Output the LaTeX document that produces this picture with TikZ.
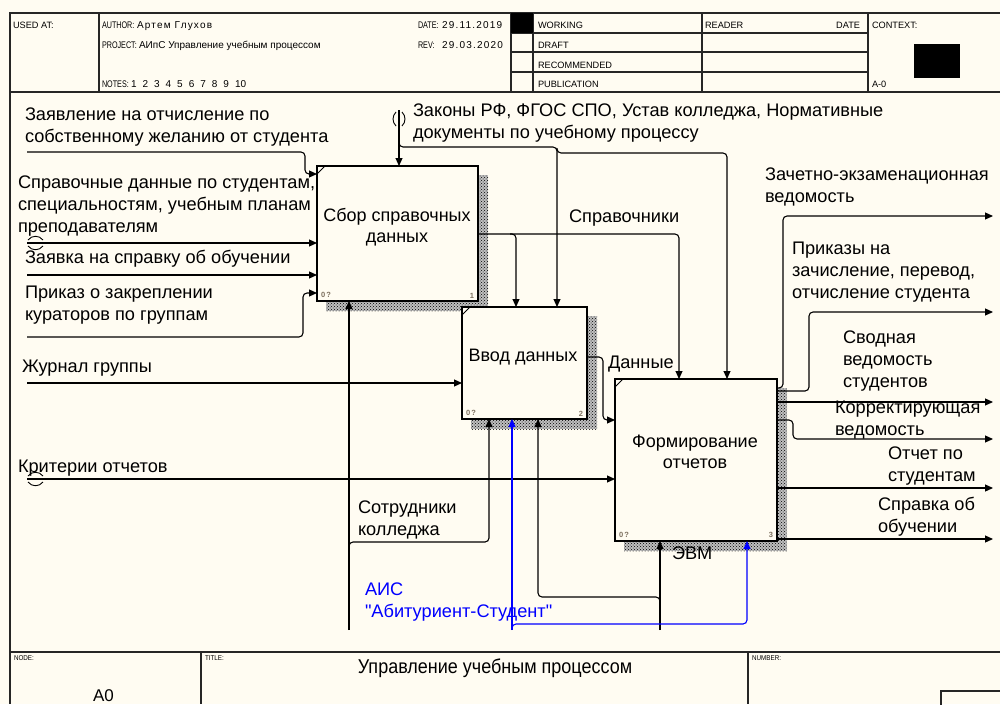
\documentclass[tikz,border=0pt]{standalone}
\usepackage{fontspec}
\setmainfont{Liberation Sans}
\newfontfamily\narrowfont[FakeStretch=0.9]{Liberation Sans}
\newfontfamily\keyfont[FakeStretch=0.75]{Liberation Sans}
\newfontfamily\spacedfont[LetterSpace=12]{Liberation Sans}
\newfontfamily\plainfont{Liberation Sans}
\usetikzlibrary{arrows.meta,patterns}
\definecolor{paper}{RGB}{255,252,242}
\definecolor{aisblue}{RGB}{0,0,255}
\definecolor{numgray}{RGB}{125,112,95}

\begin{document}
\begin{tikzpicture}[
        x=1pt, y=-1pt,
        every node/.style={inner sep=0, outer sep=0},
        frame/.style={line width=1.3pt, black!85},
        hdr/.style={font=\fontsize{9.2}{10}\selectfont, anchor=base west},
        hkey/.style={font=\keyfont\fontsize{9.6}{10}\selectfont, anchor=base west},
        hval/.style={font=\fontsize{10}{11}\selectfont, anchor=base west},
        hwide/.style={font=\spacedfont\fontsize{10}{11}\selectfont, anchor=base west},
        ftr/.style={font=\narrowfont\fontsize{7}{8}\selectfont, anchor=base west},
        lbl/.style={font=\fontsize{18.2}{22}\selectfont, align=left, anchor=base west},
        boxtxt/.style={font=\fontsize{18}{21}\selectfont, align=center, anchor=base},
        func/.style={draw, fill=paper, line width=1.3pt},
        hatch/.style={pattern=crosshatch dots, pattern color=black},
        num/.style={font=\fontsize{7.5}{8}\selectfont\bfseries, text=numgray},
        arr/.style={-{Triangle[length=8pt,width=7pt]}, line width=1.1pt, rounded corners=4pt},
        tun/.style={line width=0.9pt}
    ]
    \fill[paper] (0,0) rectangle (1000,704);
    \useasboundingbox (0,0) rectangle (1000,704);

    % рамка и шапка
    \draw[frame] (1000,13) -- (10,13) -- (10,704);
    \draw[frame] (10,92) -- (1000,92);
    \foreach \hx in {99,511,533,702,868}
        \draw[frame] (\hx,13) -- (\hx,92);
    \foreach \hy in {33,52,72}
        \draw[frame] (511,\hy) -- (868,\hy);
    \fill (511,13) rectangle (533,33);
    \fill (914,44) rectangle (960,78);
    \node[hdr] (usedat) at (13,28) {USED AT:};
    \node[hkey] (author) at (102,28) {AUTHOR:};
    \node[hwide] (authval) at (137,28) {Артем Глухов};
    \node[hkey] (project) at (102,48) {PROJECT:};
    \node[hval] (projval) at (139,48) {АИпС Управление учебным процессом};
    \node[hkey] (notes) at (102,87) {NOTES:};
    \node[hval] (notenum) at (131,87) {1\hspace{6pt}2\hspace{6pt}3\hspace{6pt}4\hspace{6pt}5\hspace{6pt}6\hspace{6pt}7\hspace{6pt}8\hspace{6pt}9\hspace{6pt}10};
    \node[hkey] (date) at (418,28) {DATE:};
    \node[hwide] (dateval) at (442,28) {29.11.2019};
    \node[hkey] (rev) at (418,48) {REV:};
    \node[hwide] (revval) at (442,48) {29.03.2020};
    \node[hdr] (working) at (538,28) {WORKING};
    \node[hdr] (draft) at (538,48) {DRAFT};
    \node[hdr] (recom) at (538,68) {RECOMMENDED};
    \node[hdr] (publ) at (538,87) {PUBLICATION};
    \node[hdr] (reader) at (705,28) {READER};
    \node[hdr, anchor=base east] (rdate) at (860,28) {DATE};
    \node[hdr] (context) at (872,28) {CONTEXT:};
    \node[hdr] (ctxnode) at (872,87) {A-0};

    % подвал
    \draw[frame] (10,652) -- (1000,652);
    \draw[frame] (201,652) -- (201,704);
    \draw[frame] (748,652) -- (748,704);
    \draw[frame] (941,710) -- (941,691) -- (1005,691);
    \node[ftr] (nodelbl) at (14,660) {NODE:};
    \node[ftr] (titlelbl) at (205,660) {TITLE:};
    \node[ftr] (numlbl) at (752,660) {NUMBER:};
    \node[font=\fontsize{17}{20}\selectfont, anchor=base west] (nodeno) at (93,701) {A0};
    \node[font=\narrowfont\fontsize{20}{22}\selectfont, anchor=base] (title) at (495,673) {Управление учебным процессом};

    % блоки
    \fill[black!25] (326,175) rectangle (488,311);
    \fill[hatch] (326,175) rectangle (488,311);
    \node[func, minimum width=161pt, minimum height=135pt] (b1) at (397.5,233.5) {};
    \fill[black!25] (471,316) rectangle (597,429);
    \fill[hatch] (471,316) rectangle (597,429);
    \node[func, minimum width=125pt, minimum height=112pt] (b2) at (524.5,363) {};
    \fill[black!25] (624,388) rectangle (787,551);
    \fill[hatch] (624,388) rectangle (787,551);
    \node[func, minimum width=162pt, minimum height=162pt] (b3) at (696,460) {};
    \foreach \b/\n in {b1/1,b2/2,b3/3} {
        \draw[line width=0.8pt] ([yshift=-8pt]\b.north west) -- ([xshift=8pt]\b.north west);
        \node[num, anchor=south west] (\b z) at ([shift={(4pt,3pt)}]\b.south west) {0\,?};
        \node[num, anchor=south east] (\b n) at ([shift={(-4pt,3pt)}]\b.south east) {\n};
    }
    \node[boxtxt] (t1) at (397,242) {Сбор справочных\\данных};
    \node[boxtxt] (t2) at (523,361) {Ввод данных};
    \node[boxtxt] (t3) at (695,468) {Формирование\\отчетов};

    % свободные концы стрелок
    \coordinate (zayav) at (27,152);
    \coordinate (sprav) at (27,243);
    \coordinate (zayavka) at (27,275);
    \coordinate (prikaz) at (27,337);
    \coordinate (zhurnal) at (27,383);
    \coordinate (krit) at (27,479);
    \coordinate (zakony) at (399,110);
    \coordinate (sotr) at (349,630);
    \coordinate (evm) at (660,630);
    \coordinate (ais) at (512,630);
    \coordinate (vedom) at (993,216);
    \coordinate (prikazy) at (993,312);
    \coordinate (svod) at (993,402);
    \coordinate (korr) at (993,439);
    \coordinate (otchet) at (993,488);
    \coordinate (spravka) at (993,539);

    % входы
    \draw[arr] (zayav) -- (305,152) -- (305,174) -- (b1.west |- 0,174);
    \draw[arr] (sprav) -- (b1.west |- sprav);
    \draw[arr] (zayavka) -- (b1.west |- zayavka);
    \draw[arr] (prikaz) -- (303,337) -- (303,293) -- (b1.west |- 0,293);
    \draw[arr] (zhurnal) -- (b2.west |- zhurnal);
    \draw[arr] (krit) -- (b3.west |- krit);
    \draw[tun] (28,240) .. controls (32,235) and (39,235) .. (43,240);
    \draw[tun] (28,246) .. controls (32,251) and (39,251) .. (43,246);
    \draw[tun] (28,476) .. controls (32,471) and (39,471) .. (43,476);
    \draw[tun] (28,482) .. controls (32,487) and (39,487) .. (43,482);

    % управление
    \draw[arr] (zakony) -- (zakony |- b1.north);
    \draw[arr] (399,140) |- (557,147) -- (557,0 |- b2.north);
    \draw[arr] (557,148) |- (727,153) -- (727,0 |- b3.north);
    \draw[tun] (396,112) .. controls (392,116) and (392,122) .. (396,126);
    \draw[tun] (402,112) .. controls (406,116) and (406,122) .. (402,126);
    \draw[arr] (b1.east |- 0,234) -- (679,234) -- (679,0 |- b3.north);
    \draw[arr] (510,234) -| (516,0 |- b2.north);
    \draw[arr] (b2.east |- 0,357) -- (603,357) -- (603,420) -- (b3.west |- 0,420);

    % механизмы
    \draw[arr] (sotr) -- (sotr |- b1.south);
    \draw[arr] (349,549) |- (489,542) -- (489,0 |- b2.south);
    \draw[arr] (evm) -- (evm |- b3.south);
    \draw[arr] (660,604) |- (538,597) -- (538,0 |- b2.south);
    \draw[arr, aisblue] (ais) -- (ais |- b2.south);
    \draw[arr, aisblue] (512,629) |- (747,624) -- (747,0 |- b3.south);

    % выходы
    \draw[arr] (b3.east |- 0,388) -| (783,216) -- (vedom);
    \draw[arr] (b3.east |- 0,391) -| (809,312) -- (prikazy);
    \draw[arr] (b3.east |- svod) -- (svod);
    \draw[arr] (b3.east |- 0,420) -| (793,439) -- (korr);
    \draw[arr] (b3.east |- otchet) -- (otchet);
    \draw[arr] (b3.east |- spravka) -- (spravka);

    % подписи (base = последняя строка)
    \node[lbl] (l1) at (25,142) {Заявление на отчисление по\\собственному желанию от студента};
    \node[lbl] (l2) at (18,232) {Справочные данные по студентам,\\специальностям, учебным планам\\преподавателям};
    \node[lbl] (l3) at (25,263) {Заявка на справку об обучении};
    \node[lbl] (l4) at (25,320) {Приказ о закреплении\\кураторов по группам};
    \node[lbl] (l5) at (413,138) {Законы РФ, ФГОС СПО, Устав колледжа, Нормативные\\документы по учебному процессу};
    \node[lbl] (l6) at (569,222) {Справочники};
    \node[lbl] (l7) at (22,372) {Журнал группы};
    \node[lbl] (l8) at (608,368) {Данные};
    \node[lbl] (l9) at (18,472) {Критерии отчетов};
    \node[lbl] (l10) at (358,535) {Сотрудники\\колледжа};
    \node[lbl, font=\plainfont\fontsize{18.2}{22}\selectfont, text=aisblue] (l11) at (365,617) {АИС\\"Абитуриент-Студент"};
    \node[lbl] (l12) at (672,559) {ЭВМ};
    \node[lbl] (l13) at (765,202) {Зачетно-экзаменационная\\ведомость};
    \node[lbl] (l14) at (792,298) {Приказы на\\зачисление, перевод,\\отчисление студента};
    \node[lbl] (l15) at (843,387) {Сводная\\ведомость\\студентов};
    \node[lbl] (l16) at (835,435) {Корректирующая\\ведомость};
    \node[lbl] (l17) at (888,481) {Отчет по\\студентам};
    \node[lbl] (l18) at (878,532) {Справка об\\обучении};
\end{tikzpicture}
\end{document}
